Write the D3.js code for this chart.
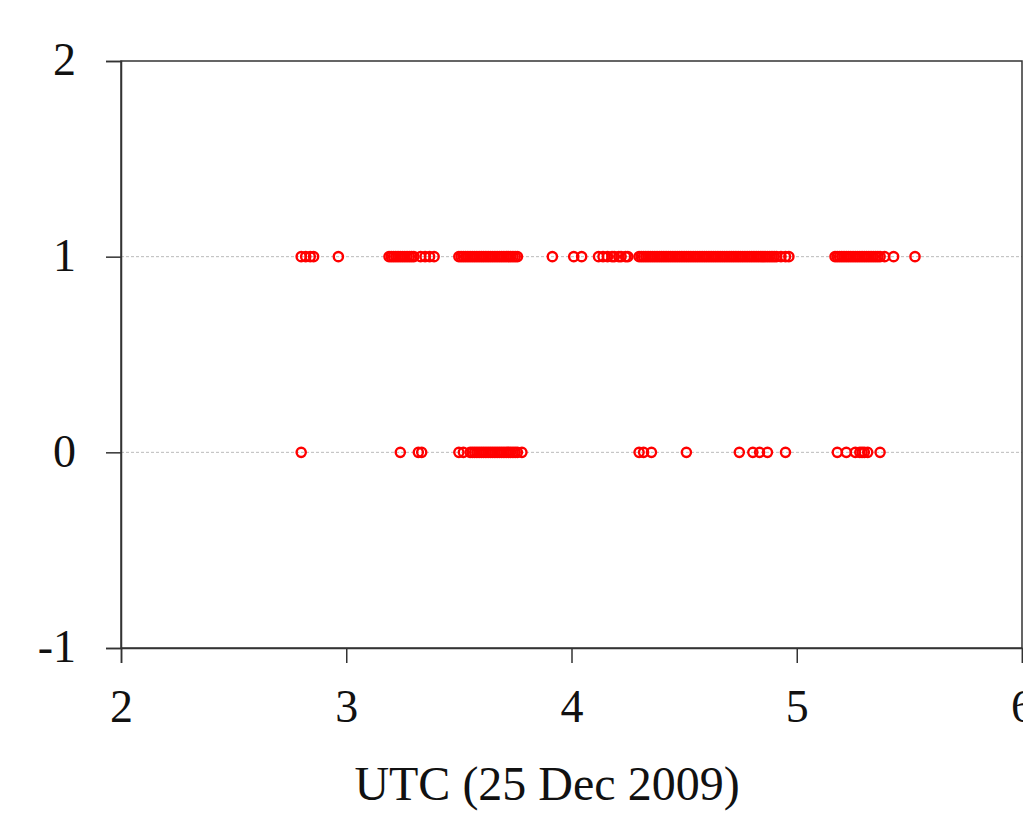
<!DOCTYPE html>
<html><head><meta charset="utf-8">
<script src="https://cdn.jsdelivr.net/npm/d3@7"></script>
<style>body{margin:0;background:#fff}svg{display:block}</style>
</head><body><svg id="c" width="1023" height="838"></svg>
<script>
const xTicks = [2, 3, 4, 5, 6];
const yTicks = [-1, 0, 1, 2];
const xTitle = "UTC (25 Dec 2009)";
// times (hours UTC) of events in state 1
const state1Times = [
  2.80, 2.82, 2.84, 2.855, 2.965,
  3.19, 3.20, 3.21, 3.22, 3.23, 3.24, 3.25, 3.26, 3.27, 3.28, 3.29, 3.30,
  3.33, 3.35, 3.37, 3.39,
  3.50, 3.51, 3.52, 3.53, 3.54, 3.55, 3.56, 3.57, 3.58, 3.59, 3.60, 3.61, 3.62,
  3.63, 3.64, 3.65, 3.66, 3.67, 3.68, 3.69, 3.70, 3.71, 3.72, 3.73, 3.74, 3.75, 3.76,
  3.915, 4.01, 4.045,
  4.12, 4.14, 4.16, 4.18, 4.19, 4.21, 4.22, 4.24, 4.25,
  4.30, 4.31, 4.32, 4.33, 4.34, 4.35, 4.36, 4.37, 4.38, 4.39, 4.40, 4.41, 4.42,
  4.43, 4.44, 4.45, 4.46, 4.47, 4.48, 4.49, 4.50, 4.51, 4.52, 4.53, 4.54, 4.55,
  4.56, 4.57, 4.58, 4.59, 4.60, 4.61, 4.62, 4.63, 4.64, 4.65, 4.66, 4.67, 4.68,
  4.69, 4.70, 4.71, 4.72, 4.73, 4.74, 4.75, 4.76, 4.77, 4.78, 4.79, 4.80, 4.81,
  4.82, 4.83, 4.84, 4.85, 4.86, 4.87, 4.88, 4.89, 4.90, 4.91, 4.93, 4.95, 4.965,
  5.17, 5.18, 5.19, 5.20, 5.21, 5.22, 5.23, 5.24, 5.25, 5.26, 5.27, 5.28, 5.29,
  5.30, 5.31, 5.32, 5.33, 5.34, 5.35, 5.36, 5.37, 5.39, 5.43, 5.525
];
// times of events in state 0
const state0Times = [
  2.80, 3.24, 3.32, 3.335,
  3.50, 3.52, 3.55, 3.56, 3.57, 3.58, 3.59, 3.60, 3.61, 3.62, 3.63, 3.64, 3.65,
  3.66, 3.67, 3.68, 3.69, 3.70, 3.71, 3.72, 3.73, 3.74, 3.75, 3.76, 3.78,
  4.30, 4.32, 4.355, 4.51, 4.745, 4.805, 4.835, 4.87, 4.95,
  5.18, 5.22, 5.26, 5.28, 5.29, 5.30, 5.315, 5.37
];

const svg = d3.select("#c");
const L = 121, R = 1022, T = 61, B = 648;
const x = d3.scaleLinear().domain([2, 6]).range([L, R]);
const y = d3.scaleLinear().domain([-1, 2]).range([B, T]);
const axisColor = "#333";
const font = "'Liberation Serif', 'Times New Roman', serif";

// grid lines
svg.append("g").selectAll("line").data([0, 1]).join("line")
  .attr("x1", L).attr("x2", R).attr("y1", d => y(d)).attr("y2", d => y(d))
  .attr("stroke", "#bbb").attr("stroke-width", 1).attr("stroke-dasharray", "3,2");

// frame
svg.append("rect").attr("x", L).attr("y", T).attr("width", R - L).attr("height", B - T)
  .attr("fill", "none").attr("stroke", axisColor).attr("stroke-width", 1.5);

const xAxis = svg.append("g").attr("transform", `translate(0,${B})`)
  .call(d3.axisBottom(x).tickValues(xTicks).tickSize(15).tickPadding(26).tickFormat(d => String(d)));
const yAxis = svg.append("g").attr("transform", `translate(${L},0)`)
  .call(d3.axisLeft(y).tickValues(yTicks).tickSize(15).tickPadding(30).tickFormat(d => String(d)));
[xAxis, yAxis].forEach(g => {
  g.select(".domain").attr("stroke", axisColor).attr("stroke-width", 1.5);
  g.selectAll(".tick line").attr("stroke", axisColor).attr("stroke-width", 1.5);
  g.selectAll("text").attr("font-family", font).attr("font-size", 46).attr("fill", "#111");
});
yAxis.selectAll("text").attr("dy", "0.3em");

// points
const pts = state1Times.map(t => ({t, s: 1})).concat(state0Times.map(t => ({t, s: 0})));
svg.append("g").selectAll("circle").data(pts).join("circle")
  .attr("cx", d => x(d.t)).attr("cy", d => y(d.s)).attr("r", 4.6)
  .attr("fill", "none").attr("stroke", "#ff0000").attr("stroke-width", 2.4);

svg.append("text").attr("x", 547).attr("y", 800).attr("text-anchor", "middle")
  .attr("font-family", font).attr("font-size", 48).attr("fill", "#111").text(xTitle);
</script></body></html>
